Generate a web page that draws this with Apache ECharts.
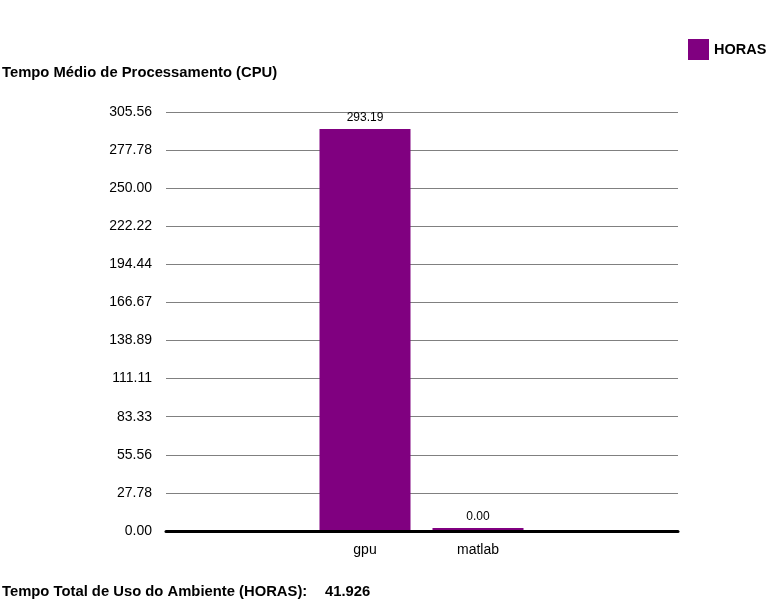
<!DOCTYPE html>
<html>
<head>
<meta charset="utf-8">
<script src="https://cdn.jsdelivr.net/npm/echarts@6/dist/echarts.min.js"></script>
<style>html,body{margin:0;padding:0;background:#fff;}#c{width:768px;height:600px;}</style>
</head>
<body>
<div id="c"></div>
<script>
const categories = ['gpu', 'matlab'];
const horas = [293.19, 0.004];
const seriesName = 'HORAS';
const yStep = 27.7778;
const yTickCount = 11;
const chartTitle = 'Tempo Médio de Processamento (CPU)';
const footerLabel = 'Tempo Total de Uso do Ambiente (HORAS):';
const footerValue = '41.926';

const yMax = yStep * yTickCount;
const FONT = 'Liberation Sans, Arial, sans-serif';
const chart = echarts.init(document.getElementById('c'));
chart.setOption({
  animation: false,
  backgroundColor: '#ffffff',
  title: [
    { text: chartTitle, left: 2, top: 65, padding: 0,
      textStyle: { fontFamily: FONT, fontSize: 14.8, fontWeight: 'bold', color: '#000' } },
    { text: footerLabel, left: 2, top: 584, padding: 0,
      textStyle: { fontFamily: FONT, fontSize: 14.8, fontWeight: 'bold', color: '#000' } },
    { text: footerValue, left: 325, top: 584, padding: 0,
      textStyle: { fontFamily: FONT, fontSize: 14.8, fontWeight: 'bold', color: '#000' } }
  ],
  legend: {
    data: [seriesName], left: 688, top: 39, padding: 0,
    itemWidth: 21, itemHeight: 21, itemGap: 5, icon: 'rect',
    textStyle: { fontFamily: FONT, fontSize: 14.5, fontWeight: 'bold', color: '#000', padding: [0,0,0,0] }
  },
  grid: [
    { left: 166, right: 90, top: 112, bottom: 69, containLabel: false },
    { left: 308.5, width: 226, top: 112, bottom: 69, containLabel: false }
  ],
  xAxis: [
    { gridIndex: 0, type: 'category', data: [''], z: 5,
      axisLine: { show: true, lineStyle: { color: '#000', width: 3 } },
      axisTick: { show: false }, axisLabel: { show: false }, splitLine: { show: false } },
    { gridIndex: 1, type: 'category', data: categories,
      axisLine: { show: false }, axisTick: { show: false },
      axisLabel: { margin: 12, fontFamily: FONT, fontSize: 14, color: '#000' } }
  ],
  yAxis: [
    { gridIndex: 0, type: 'value', min: 0, max: yMax, interval: yStep,
      axisLine: { show: false }, axisTick: { show: false },
      axisLabel: { margin: 14, fontFamily: FONT, fontSize: 14, color: '#000',
        formatter: v => v.toFixed(2) },
      splitLine: { show: true, lineStyle: { color: '#808080', width: 1 } } },
    { gridIndex: 1, type: 'value', min: 0, max: yMax, show: false,
      splitLine: { show: false } }
  ],
  series: [
    { name: seriesName, type: 'bar', xAxisIndex: 1, yAxisIndex: 1,
      data: horas, barWidth: 91, barMinHeight: 3,
      itemStyle: { color: '#800080' },
      label: { show: true, position: 'top', distance: 5,
        fontFamily: FONT, fontSize: 12, color: '#000',
        formatter: p => p.value.toFixed(2) } }
  ]
});
</script>
</body>
</html>
